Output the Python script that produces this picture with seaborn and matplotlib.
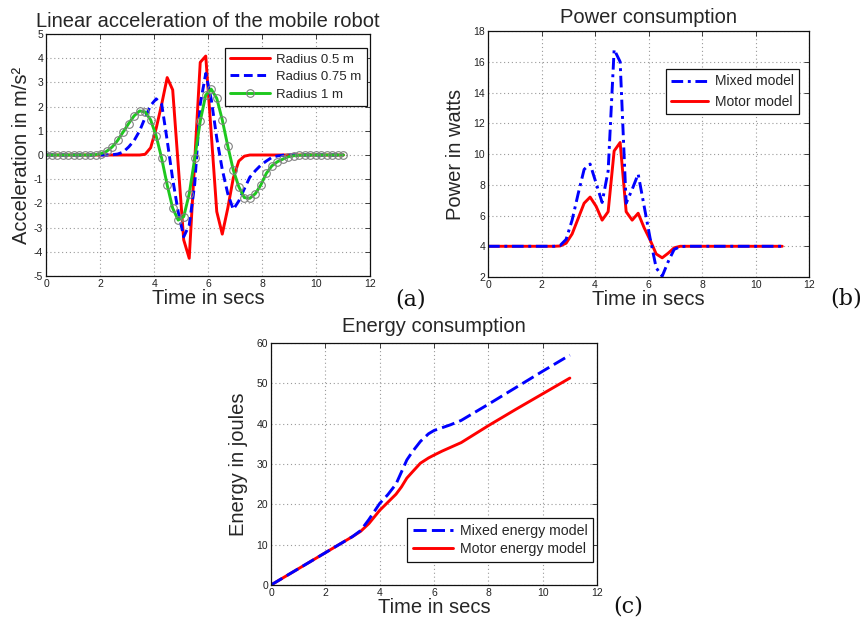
import numpy as np
import pandas as pd
import matplotlib
matplotlib.use("Agg")
import matplotlib.pyplot as plt
import seaborn as sns

sns.set_theme(style="white")
plt.rcParams["font.family"] = ["Liberation Sans", "DejaVu Sans"]
plt.rcParams["axes.unicode_minus"] = False

# ---------------- data ----------------
# (a) linear acceleration, sampled on 55 points between 0 and 11 s
t_acc = np.linspace(0, 11, 55)
acc_r05 = [0, 0, 0, 0, 0, 0, 0, 0, 0, 0, 0, 0, 0, 0, 0, 0, 0, 0,
           0.03, 0.3, 1.1, 2.1, 3.2, 2.69, -0.41, -3.51, -4.27, -0.22,
           3.83, 4.09, 0.88, -2.34, -3.27, -2.2, -0.95, -0.25, -0.05,
           0, 0, 0, 0, 0, 0, 0, 0, 0, 0, 0, 0, 0, 0, 0, 0, 0, 0]
acc_r075 = [0, 0, 0, 0, 0, 0, 0, 0, 0, 0, 0, 0,
            0.01, 0.04, 0.12, 0.33, 0.6, 1.0, 1.55, 2.05, 2.32, 2.1,
            0.6, -1.0, -2.35, -3.38, -2.9, -1.2, 2.1, 3.37, 2.3, 0.7,
            -0.6, -1.6, -2.25, -1.9, -1.4, -0.92, -0.65, -0.42, -0.25,
            -0.1, -0.04, -0.01,
            0, 0, 0, 0, 0, 0, 0, 0, 0, 0, 0]
acc_r1 = [0, 0, 0, 0, 0, 0, 0, 0, 0,
          0.01, 0.06, 0.15, 0.33, 0.6, 0.95, 1.3, 1.62, 1.82, 1.78,
          1.45, 0.79, -0.14, -1.24, -2.2, -2.69, -2.55, -1.61, -0.14,
          1.4, 2.48, 2.72, 2.34, 1.45, 0.37, -0.62, -1.31, -1.76, -1.79,
          -1.6, -1.24, -0.76, -0.45, -0.28, -0.17, -0.07, -0.03, -0.01,
          0, 0, 0, 0, 0, 0, 0, 0]

# (b) power consumption, sampled on 50 points between 0 and 11 s
t_pow = np.linspace(0, 11, 50)
pow_mixed = [4.0] * 12 + [4.05, 4.45, 5.7, 7.4, 9.0, 9.35, 8.1, 6.85, 8.9,
                          16.8, 16.0, 6.8, 7.7, 8.7, 6.6, 4.5, 2.6, 2.05,
                          3.0, 3.8, 3.97] + [4.0] * 17
pow_motor = [4.0] * 12 + [4.02, 4.2, 4.8, 5.8, 6.8, 7.2, 6.6, 5.7, 6.25,
                          10.2, 10.75, 6.25, 5.7, 6.15, 5.2, 4.4, 3.5, 3.25,
                          3.55, 3.9, 4.0] + [4.0] * 17

# (c) cumulative energy
t_en = [0, 1, 2, 3, 3.3, 3.6, 4.0, 4.3, 4.6, 4.8, 5.0, 5.2, 5.5, 5.8,
        6.0, 6.3, 6.6, 7.0, 8.0, 9.0, 10.0, 11.0]
en_mixed = [0, 4.0, 8.0, 12.0, 13.5, 16.2, 20.2, 22.4, 25.0, 28.0, 31.0,
            33.0, 35.6, 37.5, 38.3, 39.0, 39.7, 40.8, 44.8, 48.9, 53.0, 57.0]
en_motor = [0, 4.0, 8.0, 12.0, 13.3, 15.2, 18.5, 20.5, 22.5, 24.3, 26.5,
            28.0, 30.2, 31.5, 32.2, 33.2, 34.1, 35.3, 39.5, 43.5, 47.4, 51.3]

x_ticks = [0, 2, 4, 6, 8, 10, 12]

RED = "#ff0000"
BLUE = "#0000ff"
GREEN = "#1ec81e"
BIG = 14.5

fig = plt.figure(figsize=(8.65, 6.21), dpi=100)
ax_a = fig.add_axes([0.0532, 0.5556, 0.3751, 0.3896])
ax_b = fig.add_axes([0.5642, 0.5539, 0.3711, 0.3961])
ax_c = fig.add_axes([0.3133, 0.0580, 0.3769, 0.3897])


def style_axes(ax, ylim, yticks):
    ax.set_xlim(0, 12)
    ax.set_ylim(*ylim)
    ax.set_xticks(x_ticks)
    ax.set_yticks(yticks)
    ax.grid(True, linestyle=(0, (1, 2.5)), color="#9a9a9a", linewidth=0.8)
    ax.set_axisbelow(True)
    ax.tick_params(direction="in", top=True, right=True, length=3.5,
                   width=0.6, labelsize=7.5, labelcolor="#222222",
                   color="#222222", pad=2)
    for s in ax.spines.values():
        s.set_color("#111111")
        s.set_linewidth(0.9)
    ax.set_facecolor("white")


def line(ax, x, y, color, label, **kw):
    df = pd.DataFrame({"x": x, "y": y})
    sns.lineplot(data=df, x="x", y="y", ax=ax, color=color, label=label,
                 estimator=None, sort=False, linewidth=2.1, **kw)
    return ax.lines[-1]


def finish_legend(ax, handles, labels, size, spacing, hlen, **kw):
    leg = ax.legend(handles, labels, fontsize=size, fancybox=False,
                    framealpha=1, edgecolor="#111111", borderaxespad=0,
                    borderpad=0.4, labelspacing=spacing, handlelength=hlen,
                    handletextpad=0.5, **kw)
    leg.get_frame().set_linewidth(0.9)
    return leg


# ---- (a) acceleration ----
l1 = line(ax_a, t_acc, acc_r05, RED, "Radius 0.5 m")
l2 = line(ax_a, t_acc, acc_r075, BLUE, "Radius 0.75 m")
l2.set_dashes((3.0, 1.6))
l3 = line(ax_a, t_acc, acc_r1, GREEN, "Radius 1 m", marker="o",
          markersize=5.5, markerfacecolor="none", markeredgecolor="#808080",
          markeredgewidth=0.8)
style_axes(ax_a, (-5, 5), list(range(-5, 6)))
ax_a.set_title("Linear acceleration of the mobile robot", fontsize=BIG, pad=5)
ax_a.set_xlabel("Time in secs", fontsize=BIG, labelpad=0)
ax_a.set_ylabel("Acceleration in m/s²", fontsize=BIG, labelpad=2)
finish_legend(ax_a, [l1, l2, l3], ["Radius 0.5 m", "Radius 0.75 m", "Radius 1 m"],
              9.5, 0.4, 3.0, loc="upper right", bbox_to_anchor=(0.989, 0.942))

# ---- (b) power ----
m2 = line(ax_b, t_pow, pow_motor, RED, "Motor model")
m1 = line(ax_b, t_pow, pow_mixed, BLUE, "Mixed model")
m1.set_dashes((4.0, 1.6, 1.0, 1.6))
style_axes(ax_b, (2, 18), list(range(2, 19, 2)))
ax_b.set_title("Power consumption", fontsize=BIG, pad=6)
ax_b.set_xlabel("Time in secs", fontsize=BIG, labelpad=0)
ax_b.set_ylabel("Power in watts", fontsize=BIG, labelpad=6)
finish_legend(ax_b, [m1, m2], ["Mixed model", "Motor model"], 10, 0.45, 2.6,
              loc="upper right", bbox_to_anchor=(0.969, 0.846))

# ---- (c) energy ----
e2 = line(ax_c, t_en, en_motor, RED, "Motor energy model")
e1 = line(ax_c, t_en, en_mixed, BLUE, "Mixed energy model")
e1.set_dashes((4.5, 1.8))
style_axes(ax_c, (0, 60), list(range(0, 61, 10)))
ax_c.set_title("Energy consumption", fontsize=BIG, pad=8)
ax_c.set_xlabel("Time in secs", fontsize=BIG, labelpad=0)
ax_c.set_ylabel("Energy in joules", fontsize=BIG, labelpad=6)
finish_legend(ax_c, [e1, e2], ["Mixed energy model", "Motor energy model"], 10.2,
              0.3, 2.8, loc="lower right", bbox_to_anchor=(0.988, 0.095))

# panel tags
for txt, x, y in [("(a)", 411, 300), ("(b)", 846, 298), ("(c)", 628, 607)]:
    fig.text(x / 865, 1 - y / 621, txt, fontsize=16, ha="center", va="center",
             family=["DejaVu Serif"], color="#111111")

fig.savefig("out.png", dpi=100, facecolor="white")
